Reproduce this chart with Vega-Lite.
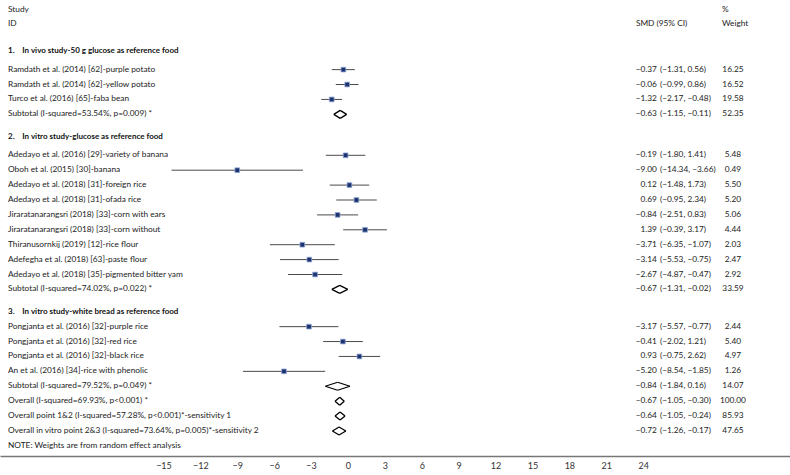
{
  "$schema": "https://vega.github.io/schema/vega-lite/v6.json",
  "width": 790,
  "height": 456,
  "padding": 0,
  "background": "white",
  "config": {"view": {"stroke": null}, "font": "Lato", "text": {"font": "Lato"}},
  "datasets": {
    "rows": [
      {"kind": "section", "label": "1.\u00a0\u00a0\u00a0\u00a0In vivo study-50 g glucose as reference food", "r": 0},
      {"kind": "study", "label": "Ramdath et al. (2014) [62]-purple potato", "est": -0.37, "lo": -1.31, "hi": 0.56, "ci": "(\u22121.31, 0.56)", "wt": 16.25, "r": 1.25},
      {"kind": "study", "label": "Ramdath et al. (2014) [62]-yellow potato", "est": -0.06, "lo": -0.99, "hi": 0.86, "ci": "(\u22120.99, 0.86)", "wt": 16.52, "r": 2.25},
      {"kind": "study", "label": "Turco et al. (2016) [65]-faba bean", "est": -1.32, "lo": -2.17, "hi": -0.48, "ci": "(\u22122.17, \u22120.48)", "wt": 19.58, "r": 3.25},
      {"kind": "pooled", "label": "Subtotal (I-squared=53.54%, p=0.009) *", "est": -0.63, "lo": -1.15, "hi": -0.11, "ci": "(\u22121.15, \u22120.11)", "wt": 52.35, "r": 4.25},
      {"kind": "section", "label": "2.\u00a0\u00a0\u00a0\u00a0In vitro study-glucose as reference food", "r": 5.75},
      {"kind": "study", "label": "Adedayo et al. (2016) [29]-variety of banana", "est": -0.19, "lo": -1.80, "hi": 1.41, "ci": "(\u22121.80, 1.41)", "wt": 5.48, "r": 7},
      {"kind": "study", "label": "Oboh et al. (2015) [30]-banana", "est": -9.00, "lo": -14.34, "hi": -3.66, "ci": "(\u221214.34, \u22123.66)", "wt": 0.49, "r": 8},
      {"kind": "study", "label": "Adedayo et al. (2018) [31]-foreign rice", "est": 0.12, "lo": -1.48, "hi": 1.73, "ci": "(\u22121.48, 1.73)", "wt": 5.50, "r": 9},
      {"kind": "study", "label": "Adedayo et al. (2018) [31]-ofada rice", "est": 0.69, "lo": -0.95, "hi": 2.34, "ci": "(\u22120.95, 2.34)", "wt": 5.20, "r": 10},
      {"kind": "study", "label": "Jiraratanarangsri (2018) [33]-corn with ears", "est": -0.84, "lo": -2.51, "hi": 0.83, "ci": "(\u22122.51, 0.83)", "wt": 5.06, "r": 11},
      {"kind": "study", "label": "Jiraratanarangsri (2018) [33]-corn without", "est": 1.39, "lo": -0.39, "hi": 3.17, "ci": "(\u22120.39, 3.17)", "wt": 4.44, "r": 12},
      {"kind": "study", "label": "Thiranusornkij (2019) [12]-rice flour", "est": -3.71, "lo": -6.35, "hi": -1.07, "ci": "(\u22126.35, \u22121.07)", "wt": 2.03, "r": 13},
      {"kind": "study", "label": "Adefegha et al. (2018) [63]-paste flour", "est": -3.14, "lo": -5.53, "hi": -0.75, "ci": "(\u22125.53, \u22120.75)", "wt": 2.47, "r": 14},
      {"kind": "study", "label": "Adedayo et al. (2018) [35]-pigmented bitter yam", "est": -2.67, "lo": -4.87, "hi": -0.47, "ci": "(\u22124.87, \u22120.47)", "wt": 2.92, "r": 15},
      {"kind": "pooled", "label": "Subtotal (I-squared=74.02%, p=0.022) *", "est": -0.67, "lo": -1.31, "hi": -0.02, "ci": "(\u22121.31, \u22120.02)", "wt": 33.59, "r": 16},
      {"kind": "section", "label": "3.\u00a0\u00a0\u00a0\u00a0In vitro study-white bread as reference food", "r": 17.5},
      {"kind": "study", "label": "Pongjanta et al. (2016) [32]-purple rice", "est": -3.17, "lo": -5.57, "hi": -0.77, "ci": "(\u22125.57, \u22120.77)", "wt": 2.44, "r": 18.5},
      {"kind": "study", "label": "Pongjanta et al. (2016) [32]-red rice", "est": -0.41, "lo": -2.02, "hi": 1.21, "ci": "(\u22122.02, 1.21)", "wt": 5.40, "r": 19.5},
      {"kind": "study", "label": "Pongjanta et al. (2016) [32]-black rice", "est": 0.93, "lo": -0.75, "hi": 2.62, "ci": "(\u22120.75, 2.62)", "wt": 4.97, "r": 20.5},
      {"kind": "study", "label": "An et al. (2016) [34]-rice with phenolic", "est": -5.20, "lo": -8.54, "hi": -1.85, "ci": "(\u22128.54, \u22121.85)", "wt": 1.26, "r": 21.5},
      {"kind": "pooled", "label": "Subtotal (I-squared=79.52%, p=0.049) *", "est": -0.84, "lo": -1.84, "hi": 0.16, "ci": "(\u22121.84, 0.16)", "wt": 14.07, "r": 22.5},
      {"kind": "pooled", "label": "Overall (I-squared=69.93%, p<0.001) *", "est": -0.67, "lo": -1.05, "hi": -0.30, "ci": "(\u22121.05, \u22120.30)", "wt": 100.00, "r": 23.5},
      {"kind": "pooled", "label": "Overall point 1&2 (I-squared=57.28%, p<0.001)*-sensitivity 1", "est": -0.64, "lo": -1.05, "hi": -0.24, "ci": "(\u22121.05, \u22120.24)", "wt": 85.93, "r": 24.5},
      {"kind": "pooled", "label": "Overall in vitro point 2&3 (I-squared=73.64%, p=0.005)*-sensitivity 2", "est": -0.72, "lo": -1.26, "hi": -0.17, "ci": "(\u22121.26, \u22120.17)", "wt": 47.65, "r": 25.5},
      {"kind": "note", "label": "NOTE: Weights are from random effect analysis", "r": 26.5}
    ]
  },
  "data": {"name": "rows"},
  "encoding": {
    "y": {"field": "r", "type": "quantitative", "scale": {"domain": [-3.423, 27.181], "reverse": true, "nice": false, "zero": false}, "axis": null}
  },
  "layer": [
    {
      "data": {"values": [{"t": 0}]},
      "mark": {"type": "rule", "color": "#666666", "strokeWidth": 1},
      "encoding": {
        "x": {"datum": -28.29, "type": "quantitative", "scale": {"domain": [-28.29, 35.94], "nice": false, "zero": false},
              "axis": {"values": [-15, -12, -9, -6, -3, 0, 3, 6, 9, 12, 15, 18, 21, 24], "format": "d", "ticks": false, "grid": false, "title": null, "labelFont": "Lato", "labelFontSize": 9, "labelColor": "#333333", "domainColor": "#777777", "domainWidth": 1.5, "labelPadding": 5, "labelFlush": false}},
        "x2": {"datum": 35.94},
        "y": {"datum": -1.07}
      }
    },
    {
      "data": {"values": [{"t": 0}]},
      "mark": {"type": "rule", "color": "#444444", "strokeWidth": 1},
      "encoding": {"x": {"datum": 1}, "y": {"datum": -0.8}, "y2": {"datum": 27.181}}
    },
    {
      "data": {"values": [{"t": 0}]},
      "mark": {"type": "rule", "color": "#444444", "strokeWidth": 1, "strokeDash": [3, 2]},
      "encoding": {"x": {"datum": -0.67}, "y": {"datum": -0.8}, "y2": {"datum": 27.181}}
    },
    {
      "transform": [{"filter": "datum.kind === 'study'"}],
      "mark": {"type": "rule", "color": "#4a4a4a", "strokeWidth": 1},
      "encoding": {"x": {"field": "lo", "type": "quantitative"}, "x2": {"field": "hi"}}
    },
    {
      "transform": [{"filter": "datum.kind === 'study'"}],
      "mark": {"type": "point", "shape": "square", "filled": true, "size": 22, "color": "#1d3370", "stroke": "#8ea4d4", "strokeWidth": 0.8, "opacity": 1},
      "encoding": {"x": {"field": "est", "type": "quantitative"}}
    },
    {
      "transform": [{"filter": "datum.kind === 'pooled'"}],
      "mark": {"type": "rule", "color": "#000000", "strokeWidth": 1.3, "y2Offset": -4},
      "encoding": {"x": {"field": "lo", "type": "quantitative"}, "x2": {"field": "est"}, "y2": {"field": "r"}}
    },
    {
      "transform": [{"filter": "datum.kind === 'pooled'"}],
      "mark": {"type": "rule", "color": "#000000", "strokeWidth": 1.3, "y2Offset": 4},
      "encoding": {"x": {"field": "lo", "type": "quantitative"}, "x2": {"field": "est"}, "y2": {"field": "r"}}
    },
    {
      "transform": [{"filter": "datum.kind === 'pooled'"}],
      "mark": {"type": "rule", "color": "#000000", "strokeWidth": 1.3, "y2Offset": -4},
      "encoding": {"x": {"field": "hi", "type": "quantitative"}, "x2": {"field": "est"}, "y2": {"field": "r"}}
    },
    {
      "transform": [{"filter": "datum.kind === 'pooled'"}],
      "mark": {"type": "rule", "color": "#000000", "strokeWidth": 1.3, "y2Offset": 4},
      "encoding": {"x": {"field": "hi", "type": "quantitative"}, "x2": {"field": "est"}, "y2": {"field": "r"}}
    },
    {
      "transform": [{"filter": "datum.kind !== 'section'"}],
      "mark": {"type": "text", "align": "left", "baseline": "middle", "fontSize": 8.3, "color": "#222222"},
      "encoding": {"x": {"datum": -27.64}, "text": {"field": "label"}}
    },
    {
      "transform": [{"filter": "datum.kind === 'section'"}],
      "mark": {"type": "text", "align": "left", "baseline": "middle", "fontSize": 8, "fontWeight": "bold", "color": "#111111"},
      "encoding": {"x": {"datum": -27.64}, "text": {"field": "label"}}
    },
    {
      "transform": [{"filter": "isValid(datum.est)"}],
      "mark": {"type": "text", "align": "right", "baseline": "middle", "fontSize": 8.3, "color": "#222222"},
      "encoding": {"x": {"datum": 25.12}, "text": {"field": "est", "type": "quantitative", "format": ".2f"}}
    },
    {
      "transform": [{"filter": "isValid(datum.est)"}],
      "mark": {"type": "text", "align": "left", "baseline": "middle", "fontSize": 8.3, "color": "#222222"},
      "encoding": {"x": {"datum": 25.37}, "text": {"field": "ci"}}
    },
    {
      "transform": [{"filter": "isValid(datum.wt)"}],
      "mark": {"type": "text", "align": "center", "baseline": "middle", "fontSize": 8.3, "color": "#222222"},
      "encoding": {"x": {"datum": 31.3}, "text": {"field": "wt", "type": "quantitative", "format": ".2f"}}
    },
    {
      "data": {"values": [{"t": "Study", "r": -2.75}, {"t": "ID", "r": -1.78}]},
      "mark": {"type": "text", "align": "left", "baseline": "middle", "fontSize": 8.3, "color": "#222222"},
      "encoding": {"x": {"datum": -27.64}, "text": {"field": "t"}}
    },
    {
      "data": {"values": [{"t": "SMD (95% CI)", "r": -1.78}]},
      "mark": {"type": "text", "align": "left", "baseline": "middle", "fontSize": 8.3, "color": "#222222"},
      "encoding": {"x": {"datum": 23.41}, "text": {"field": "t"}}
    },
    {
      "data": {"values": [{"t": "%", "r": -2.75}, {"t": "Weight", "r": -1.78}]},
      "mark": {"type": "text", "align": "left", "baseline": "middle", "fontSize": 8.3, "color": "#222222"},
      "encoding": {"x": {"datum": 30.41}, "text": {"field": "t"}}
    }
  ]
}
